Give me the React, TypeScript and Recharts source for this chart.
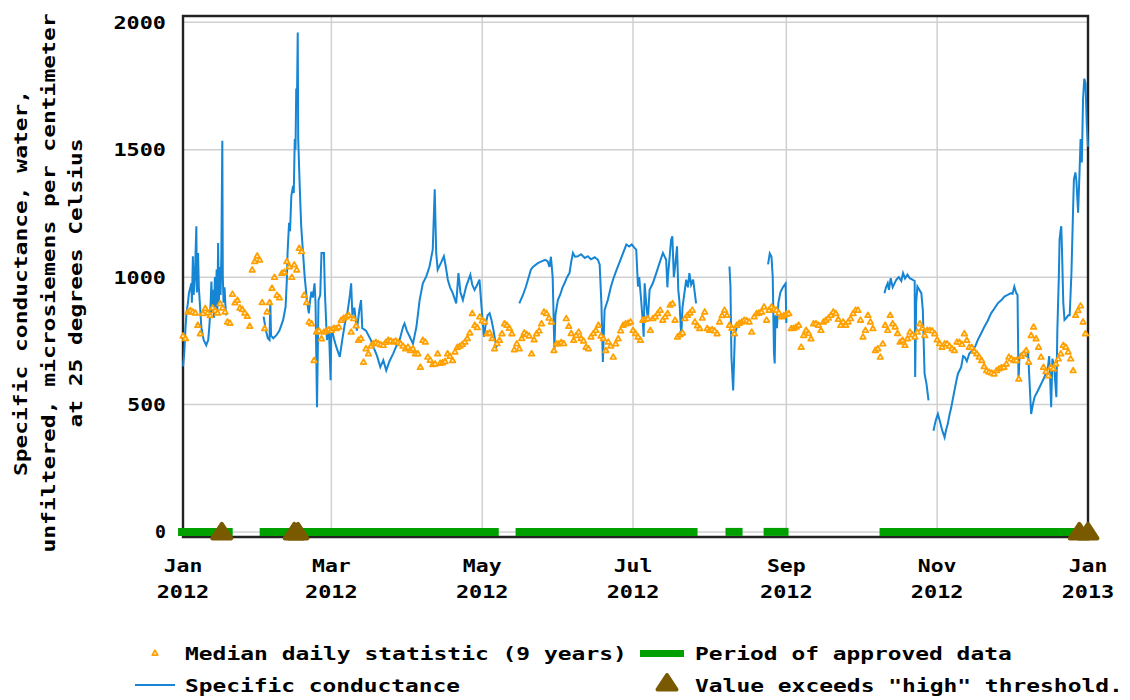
import React from 'react';
import {
  ComposedChart,
  XAxis,
  YAxis,
  CartesianGrid,
  Line,
  Scatter,
  ReferenceLine,
  ReferenceArea,
} from 'recharts';

const FONT = '"DejaVu Sans Mono", "Liberation Mono", monospace';
const PITCH = 13.9;

// ---- axis ticks ----
const monthTickDays = [0, 60, 121, 182, 244, 305, 366];
const monthTickMonths = ['Jan', 'Mar', 'May', 'Jul', 'Sep', 'Nov', 'Jan'];
const monthTickYears = ['2012', '2012', '2012', '2012', '2012', '2012', '2013'];
const valueTicks = [0, 500, 1000, 1500, 2000];

// ---- median daily statistic (9 years), one value per day of 2012 ----
const medianDaily = [
  770, 760, 864, 870, 864, 860, 812, 779, 858, 878,
  860, 850, 880, 870, 860, 897, 880, 864, 825, 820,
  934, 900, 910, 880, 874, 860, 847, 808, 1029, 1062,
  1084, 1068, 901, 799, 864, 901, 957, 1000, 930, 920,
  1016, 1020, 1062, 1042, 1000, 1049, 1029, 1114, 1101, 930,
  901, 825, 818, 674, 785, 790, 759, 785, 789, 795,
  792, 800, 799, 805, 832, 840, 845, 851, 785, 838,
  810, 753, 760, 667, 720, 700, 730, 740, 745, 740,
  735, 733, 745, 753, 750, 746, 750, 745, 740, 730,
  720, 726, 713, 720, 700, 700, 647, 753, 746, 687,
  675, 658, 660, 700, 663, 665, 670, 700, 690, 674,
  707, 726, 730, 737, 746, 760, 782, 858, 812, 803,
  845, 830, 825, 779, 782, 760, 720, 740, 753, 779,
  818, 812, 800, 779, 716, 739, 720, 760, 782, 776,
  770, 700, 755, 779, 790, 818, 864, 858, 840, 825,
  713, 739, 739, 745, 740, 838, 808, 780, 753, 772,
  785, 760, 750, 726, 720, 766, 780, 792, 812, 770,
  760, 713, 746, 730, 687, 739, 759, 790, 812, 818,
  820, 825, 792, 780, 766, 753, 832, 835, 838, 792,
  838, 845, 858, 871, 832, 845, 858, 891, 897, 832,
  766, 775, 782, 838, 851, 860, 871, 825, 810, 799,
  840, 864, 799, 792, 795, 790, 779, 825, 850, 871,
  851, 812, 800, 779, 812, 820, 825, 832, 830, 825,
  785, 845, 858, 860, 864, 884, 832, 871, 884, 875,
  871, 860, 845, 851, 855, 858, 799, 800, 805, 812,
  726, 772, 792, 780, 759, 818, 818, 812, 792, 825,
  832, 840, 851, 864, 858, 835, 812, 825, 812, 825,
  838, 858, 871, 871, 832, 766, 792, 851, 825, 799,
  713, 720, 687, 739, 812, 792, 851, 818, 805, 780,
  746, 753, 733, 759, 785, 775, 766, 785, 818, 800,
  772, 792, 792, 790, 779, 755, 740, 726, 739, 739,
  730, 720, 713, 746, 745, 737, 779, 753, 726, 725,
  710, 700, 687, 674, 650, 634, 628, 625, 621, 634,
  641, 645, 647, 660, 687, 680, 674, 674, 601, 690,
  700, 713, 667, 772, 805, 759, 726, 687, 647, 630,
  614, 647, 641, 660, 680, 700, 733, 726, 707, 680,
  634, 851, 870, 888, 825, 779,
];

// ---- specific conductance readings: [day of 2012, value]; null marks a gap ----
const conductanceReadings: [number, number | null][] = [
  [0, 650], [0.5, 700], [1, 800], [1.4, 858], [2, 900], [2.4, 937], [3, 960], [3.4, 976],
  [3.6, 900], [4, 1082], [4.3, 930], [4.8, 1000], [5.4, 1200], [5.6, 940], [6.1, 1095],
  [6.4, 960], [6.8, 900], [7.4, 805], [8, 770], [8.4, 753], [9.4, 733], [10.2, 753],
  [10.6, 800], [11, 858], [11.5, 983], [11.8, 860], [12.2, 950], [12.5, 840], [12.9, 1000],
  [13.2, 880], [13.6, 1030], [13.9, 860], [14.2, 1134], [14.5, 900], [14.9, 1040],
  [15.2, 930], [15.5, 1082], [15.9, 1535], [16.1, 1000], [16.4, 900], [16.8, 960],
  [17.2, 880], [17.5, 850], [18, null],
  [32.6, 845], [33.5, 792], [34.3, 760], [35, 753], [35.3, 910], [35.6, 770], [36.5, 760],
  [37.8, 772], [39, 790], [40.5, 832], [41.5, 884], [42, 990], [42.3, 1100], [42.9, 1213],
  [43.3, 1180], [43.8, 1318], [44.5, 1358], [44.8, 1330], [45.2, 1542], [45.5, 1500],
  [45.8, 1740], [46.1, 1700], [46.4, 1960], [46.6, 1540], [47.2, 1358], [47.8, 1200],
  [48.5, 1100], [49.2, 1003], [50.1, 910], [50.9, 858], [51.3, 900], [51.9, 943],
  [52.5, 920], [53.2, 976], [53.6, 900], [54.2, 489], [54.5, 700], [54.8, 910], [55.5, 930],
  [56, 1095], [57, 1095], [57.4, 937], [58.2, 753], [59, 800], [59.7, 595], [60, 805],
  [61, 760], [62, 726], [63.4, 687], [64.5, 760], [65.5, 820], [66.5, 860], [67.5, 930],
  [68, 976], [68.5, 850], [69.3, 880], [70.3, 790], [71.3, 870], [72, 910], [72.5, 800],
  [74, 790], [76, 753], [77, 726], [78.5, 690], [79.8, 647], [81, 674], [82.2, 634],
  [83.5, 670], [85, 700], [86.3, 730], [87.6, 753], [89, 805], [89.6, 818], [90.5, 790],
  [91.7, 766], [93, 739], [94.4, 805], [95.7, 910], [97, 976], [98.4, 1003], [99.7, 1042],
  [101, 1108], [101.8, 1345], [102.4, 1095], [103, 1029], [104.5, 1060], [105.5, 1082],
  [106.3, 1040], [107.1, 990], [108, 960], [109.1, 937], [110.5, 897], [111.4, 1016],
  [112.2, 940], [113.2, 910], [114.5, 963], [115.5, 990], [116.2, 1009], [117, 970],
  [117.9, 950], [119, 970], [119.9, 990], [120.6, 900], [121.7, 766], [122.5, 820],
  [123.2, 850], [124, 858], [124.8, 830], [125.6, 790], [126.7, 726], [127.5, 740],
  [128, null],
  [136, 897], [137.5, 930], [138.7, 963], [139.5, 990], [140.7, 1029], [141.5, 1040],
  [143.5, 1055], [145, 1062], [146.5, 1068], [147.5, 1062], [148.2, 1040], [148.8, 1080],
  [149.5, 1000], [150.2, 713], [150.6, 850], [151.6, 910], [152.5, 930], [153.5, 960],
  [154.3, 976], [155.3, 1000], [156.3, 1016], [157, 1060], [157.7, 1095], [158.5, 1080],
  [159.7, 1082], [161, 1090], [162.5, 1075], [163.7, 1082], [165, 1070], [166.5, 1078],
  [167.8, 1068], [168.5, 1050], [169.2, 900], [169.8, 667], [170.5, 871], [171.8, 910],
  [173, 960], [173.9, 990], [175, 1020], [175.9, 1042], [177, 1070], [178, 1095],
  [179.3, 1128], [180.5, 1120], [181.5, 1128], [182.6, 1115], [183.3, 1108], [184, 963],
  [184.5, 1000], [185.2, 920], [186, 818], [186.3, 766], [186.7, 976], [187.3, 900],
  [188, 830], [188.7, 950], [190, 976], [191.4, 1016], [192.7, 1055], [194.1, 1095],
  [195.4, 1068], [195.9, 960], [196.1, 1000], [197.4, 1147], [197.9, 1160], [198.5, 1000],
  [199, 1040], [199.8, 1121], [200.3, 950], [200.8, 900], [201.5, 766], [202, 880],
  [203.5, 990], [204.2, 960], [204.8, 1016], [205.5, 970], [206.3, 990], [207.5, 897],
  [208, null],
  [221, 1042], [221.4, 963], [221.8, 687], [222.5, 555], [223.2, 779], [224.5, 818],
  [225, null],
  [236.6, 1050], [237.3, 1093], [238, 1080], [238.5, 1000], [239, 700], [239.3, 661],
  [239.6, 850], [240.2, 800], [240.8, 900], [241.6, 940], [242.6, 960], [243.7, 975],
  [244, 820], [244.5, null],
  [283.7, 937], [284.3, 960], [285, 976], [285.5, 950], [286.2, 996], [287, 960],
  [288.5, 990], [289.5, 1000], [290.5, 985], [291.2, 1016], [292, 995], [293, 1010],
  [293.9, 996], [295, 990], [295.9, 985], [296.1, 608], [296.5, 900], [297, 963],
  [297.8, 950], [298.6, 937], [299.2, 870], [299.9, 621], [300.7, 580], [301.5, 516],
  [302, null],
  [303.5, 397], [304, 420], [304.5, 440], [305.3, 463], [306.2, 430], [307, 400],
  [308, 371], [308.6, 400], [309.3, 424], [310, 460], [310.7, 489], [311.3, 520],
  [312, 555], [312.7, 590], [313.4, 621], [314.7, 647], [315.5, 690], [316.1, 687],
  [317, 670], [318, 700], [319.4, 713], [320.5, 730], [321.4, 753], [322.8, 780],
  [324.1, 805], [325.5, 830], [326.8, 858], [328, 875], [329.5, 897], [331, 910],
  [332.2, 924], [333.5, 930], [334.9, 937], [335.5, 935], [336.2, 963], [337, 937],
  [337.5, 930], [337.9, 595], [338.3, 690], [339, 700], [340, 700], [341, 690],
  [341.8, 700], [342.2, 620], [343, 463], [343.7, 500], [344.4, 529], [345.5, 550],
  [346.4, 568], [347.5, 590], [348.4, 608], [349.2, 630], [349.8, 647], [350.3, 690],
  [350.7, 600], [351.1, 489], [351.6, 680], [352.3, 650], [353.2, 529], [353.6, 792],
  [354.2, 1000], [354.5, 1147], [355, 1190], [355.2, 1200], [355.5, 1100], [356, 900],
  [356.5, 832], [357.3, 840], [358, 850], [358.6, 850], [359.3, 1016], [359.9, 1240],
  [360.3, 1384], [360.9, 1411], [361.3, 1379], [362, 1253], [362.5, 1390], [363, 1542],
  [363.5, 1450], [364, 1700], [364.5, 1779], [365, 1760], [365.5, 1600], [366, 1512],
];

// ---- periods of approved data (day ranges) ----
const approvedStart = [-2, 31, 134.5, 219.4, 234.8, 281.7];
const approvedEnd = [20.1, 127.7, 208.1, 226.3, 244.9, 366];

// ---- days where value exceeds "high" threshold ----
const exceedanceDays = [15.7, 45, 46.5, 362.5, 366];

// ---- derived tables for recharts ----
const medianData = medianDaily.map((v, i) => ({ x: i, y: v }));
const conductanceData = conductanceReadings.map(([d, v]) => ({ x: d, y: v }));
const exceedanceData = exceedanceDays.map((d) => ({ x: d, y: 0 }));

const COLORS = {
  blue: '#1585d4',
  orange: '#ffa000',
  orangeFill: '#fff0c8',
  green: '#00a000',
  brown: '#7a5a00',
  grid: '#d0d0d0',
  frame: '#222222',
};

function MonoText(props: {
  x: number;
  y: number;
  text: string;
  anchor?: 'start' | 'middle' | 'end';
  transform?: string;
}) {
  const { x, y, text, anchor = 'start', transform } = props;
  return (
    <text
      x={x}
      y={y}
      textAnchor={anchor}
      fontFamily={FONT}
      fontWeight="bold"
      fontSize={18}
      fill="#000"
      textLength={text.length * PITCH - 3}
      lengthAdjust="spacingAndGlyphs"
      transform={transform}
    >
      {text}
    </text>
  );
}

const XTick = (props: any) => {
  const { x, y, payload } = props;
  const i = monthTickDays.indexOf(payload.value);
  if (i < 0) return <g />;
  return (
    <g>
      <MonoText x={x} y={y + 35} text={monthTickMonths[i]} anchor="middle" />
      <MonoText x={x} y={y + 61} text={monthTickYears[i]} anchor="middle" />
    </g>
  );
};

const YTick = (props: any) => {
  const { x, y, payload } = props;
  return <MonoText x={x} y={y + 6.5} text={String(payload.value)} anchor="end" />;
};

const SmallTriangle = (props: any) => {
  const { cx, cy } = props;
  if (cx == null || cy == null) return <g />;
  return (
    <path
      d={`M${cx},${cy - 2.8} L${cx + 2.8},${cy + 2.1} L${cx - 2.8},${cy + 2.1} Z`}
      fill={COLORS.orangeFill}
      stroke={COLORS.orange}
      strokeWidth={1.7}
      strokeLinejoin="round"
    />
  );
};

const BigTriangle = (props: any) => {
  const { cx, cy } = props;
  if (cx == null || cy == null) return <g />;
  return (
    <path
      d={`M${cx},${cy - 8} L${cx + 9.5},${cy + 6.5} L${cx - 9.5},${cy + 6.5} Z`}
      fill={COLORS.brown}
      stroke={COLORS.brown}
      strokeWidth={4}
      strokeLinejoin="round"
    />
  );
};

export default function App() {
  return (
    <div style={{ position: 'absolute', left: 0, top: 0, width: 1130, height: 700, background: '#fff' }}>
      <ComposedChart
        width={1130}
        height={700}
        margin={{ top: 16, right: 42, left: 0, bottom: 0 }}
      >
        <CartesianGrid stroke={COLORS.grid} strokeWidth={1.5} />
        <XAxis
          type="number"
          dataKey="x"
          domain={[0, 366]}
          ticks={monthTickDays}
          interval={0}
          tick={<XTick />}
          tickLine={false}
          axisLine={false}
          tickSize={0}
          tickMargin={0}
          height={163}
        />
        <YAxis
          type="number"
          domain={[-20, 2025]}
          ticks={valueTicks}
          interval={0}
          tick={<YTick />}
          tickLine={false}
          axisLine={false}
          tickSize={0}
          tickMargin={17}
          width={183}
        />
        <ReferenceArea
          x1={0}
          x2={366}
          y1={-20}
          y2={2025}
          fill="none"
          fillOpacity={0}
          stroke={COLORS.frame}
          strokeWidth={2.4}
          ifOverflow="visible"
        />
        {approvedStart.map((s, i) => (
          <ReferenceLine
            key={'ap' + i}
            segment={[
              { x: s, y: 0 },
              { x: approvedEnd[i], y: 0 },
            ]}
            stroke={COLORS.green}
            strokeWidth={8}
            ifOverflow="visible"
          />
        ))}
        <Line
          data={conductanceData}
          dataKey="y"
          type="linear"
          stroke={COLORS.blue}
          strokeWidth={2}
          dot={false}
          activeDot={false}
          connectNulls={false}
          isAnimationActive={false}
        />
        <Scatter
          data={medianData}
          dataKey="y"
          shape={<SmallTriangle />}
          isAnimationActive={false}
        />
        <Scatter
          data={exceedanceData}
          dataKey="y"
          shape={<BigTriangle />}
          isAnimationActive={false}
        />
      </ComposedChart>

      <svg
        width={1130}
        height={700}
        style={{ position: 'absolute', left: 0, top: 0, pointerEvents: 'none' }}
      >
        <MonoText x={0} y={0} text="Specific conductance, water," anchor="middle" transform="translate(27,283) rotate(-90)" />
        <MonoText x={0} y={0} text="unfiltered, microsiemens per centimeter" anchor="middle" transform="translate(54.5,283) rotate(-90)" />
        <MonoText x={0} y={0} text="at 25 degrees Celsius" anchor="middle" transform="translate(81.5,283) rotate(-90)" />

        <SmallTriangle cx={155} cy={653} />
        <MonoText x={185} y={660} text="Median daily statistic (9 years)" />
        <rect x={640} y={650} width={44} height={7} fill={COLORS.green} />
        <MonoText x={695} y={660} text="Period of approved data" />

        <line x1={135} x2={175} y1={685} y2={685} stroke={COLORS.blue} strokeWidth={2} />
        <MonoText x={185} y={692} text="Specific conductance" />
        <BigTriangle cx={667} cy={683} />
        <MonoText x={695} y={692} text={'Value exceeds "high" threshold.'} />
      </svg>
    </div>
  );
}
